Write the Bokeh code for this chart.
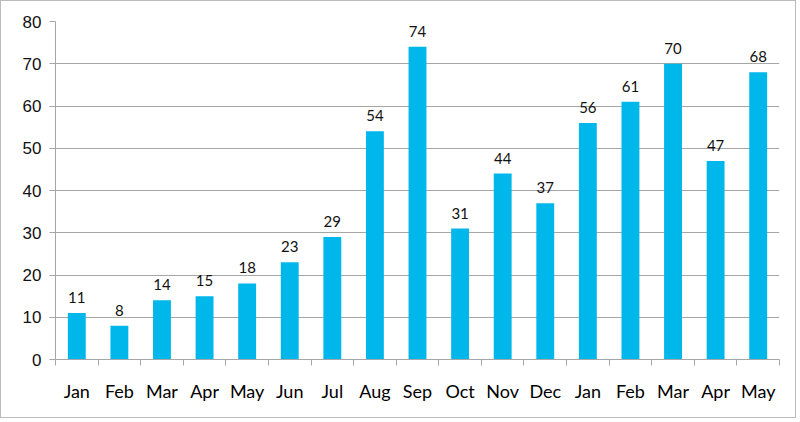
from bokeh.plotting import figure
from bokeh.models import ColumnDataSource, FixedTicker, Range1d
from bokeh.core.properties import value
from bokeh.embed import file_html
from bokeh.resources import INLINE

months = ["Jan", "Feb", "Mar", "Apr", "May", "Jun", "Jul", "Aug", "Sep", "Oct",
          "Nov", "Dec", "Jan", "Feb", "Mar", "Apr", "May"]
values = [11, 8, 14, 15, 18, 23, 29, 54, 74, 31, 44, 37, 56, 61, 70, 47, 68]
y_ticks = [0, 10, 20, 30, 40, 50, 60, 70, 80]

n = len(months)
centers = [i + 0.5 for i in range(n)]
bounds = list(range(n + 1))

src = ColumnDataSource(dict(x=centers, top=values, label=[str(v) for v in values]))

p = figure(width=796, height=418, output_backend="svg", toolbar_location=None,
           x_range=Range1d(0, n), y_range=Range1d(0, 80),
           min_border_left=54, min_border_right=18, min_border_top=20,
           min_border_bottom=60)
p.outline_line_color = None
p.background_fill_color = "white"
p.border_fill_color = "white"

p.vbar(x="x", top="top", width=0.42, bottom=0, source=src,
       fill_color="#00B7EB", line_color=None)
p.text(x="x", y="top", text="label", source=src, text_align="center",
       text_baseline="bottom", y_offset=-10, text_font=value("Lato"),
       text_font_size="15px", text_color="#111111")

p.xgrid.visible = False
p.ygrid.grid_line_color = "#A6A6A6"
p.ygrid.ticker = FixedTicker(ticks=y_ticks)

p.yaxis.ticker = FixedTicker(ticks=y_ticks)
p.yaxis.axis_line_color = "#A6A6A6"
p.yaxis.major_tick_line_color = "#A6A6A6"
p.yaxis.major_tick_out = 6
p.yaxis.major_tick_in = 0
p.yaxis.minor_tick_line_color = None
p.yaxis.major_label_text_font = "Liberation Sans"
p.yaxis.major_label_text_font_size = "17px"
p.yaxis.major_label_text_color = "#111111"
p.yaxis.major_label_standoff = 8

p.xaxis.ticker = FixedTicker(ticks=centers, minor_ticks=bounds)
p.xaxis.major_label_overrides = {c: m for c, m in zip(centers, months)}
p.xaxis.axis_line_color = "#A6A6A6"
p.xaxis.major_tick_line_color = None
p.xaxis.major_tick_out = 0
p.xaxis.major_tick_in = 0
p.xaxis.minor_tick_line_color = "#A6A6A6"
p.xaxis.minor_tick_out = 6
p.xaxis.minor_tick_in = 0
p.xaxis.major_label_text_font = "Lato"
p.xaxis.major_label_text_font_size = "18px"
p.xaxis.major_label_text_color = "#000000"
p.xaxis.major_label_standoff = 14

p.styles = {"border": "1px solid #BBBBBB"}

open("out.html", "w").write(file_html(p, INLINE))
